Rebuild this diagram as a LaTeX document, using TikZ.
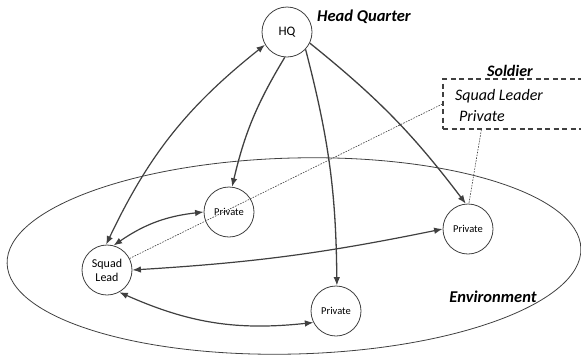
\documentclass[tikz,border=0pt]{standalone}
\usepackage{fontspec}
\setmainfont{Carlito}
\usetikzlibrary{arrows.meta,calc}
\definecolor{edgegray}{HTML}{404040}
\tikzset{
  agent/.style={draw=edgegray, line width=0.8pt, circle, minimum size=50pt, inner sep=0pt, fill=white},
  link/.style={draw=edgegray, line width=1.3pt, -{Latex[length=8.5pt,width=6.5pt]}},
  duallink/.style={draw=edgegray, line width=1.2pt, {Latex[length=8.5pt,width=6.5pt]}-{Latex[length=8.5pt,width=6.5pt]}},
  relation/.style={draw=edgegray, line width=0.6pt, dash pattern=on 1.6pt off 1.2pt},
  heading/.style={font=\fontsize{16.5}{19}\selectfont\bfseries\itshape, inner sep=0pt},
  member/.style={font=\fontsize{16}{19}\selectfont\itshape, inner sep=0pt, anchor=west},
}
\begin{document}
\begin{tikzpicture}[x=1pt,y=-1pt]
\useasboundingbox (0,0) rectangle (581,354);
% environment
\draw[edgegray, line width=0.8pt] (294,256) ellipse[x radius=287, y radius=98, rotate=1.5];
\node[heading] (envlabel) at (493,297) {Environment};
% soldier box
\node[draw=edgegray, line width=1.3pt, dash pattern=on 5pt off 3.5pt, rectangle, minimum width=147pt, minimum height=50pt, inner sep=0pt] (soldierbox) at (516.5,104) {};
\node[heading, font=\fontsize{16}{19}\selectfont\bfseries\itshape] (soldierlabel) at (510,71) {Soldier};
\node[member] (sqleader) at (455,96) {Squad Leader};
\node[member] (sqprivate) at (459,116) {Private};
\coordinate (boxfoot) at ($(soldierbox.south west)+(39,0)$);
% agents
\node[agent, font=\fontsize{13}{15}\selectfont] (hq) at (287,32) {HQ};
\node[agent, font=\fontsize{10.5}{12}\selectfont] (p1) at (229,212) {Private};
\node[agent, font=\fontsize{10.5}{12}\selectfont] (p2) at (468,229) {Private};
\node[agent, font=\fontsize{10.5}{12}\selectfont] (p3) at (336,311) {Private};
\node[agent, font=\fontsize{12}{15}\selectfont, align=center] (sl) at (107,270) {Squad\\[-1pt]Lead};
\node[heading] (hqlabel) at (364,17) {Head Quarter};
% relations
\draw[relation] (soldierbox.west) -- (sl.27);
\draw[relation] (boxfoot) -- (p2.88);
% links
\draw[duallink] (sl.92) to[bend left=13] (hq.210);
\draw[link] (hq.265) to[bend right=9] (p1.83);
\draw[link] (hq.317) to[bend left=7] (p3.88);
\draw[link] (hq.334) to[bend left=7] (p2.95);
\draw[duallink] (sl.75) to[bend left=14] (p1.180);
\draw[duallink] (sl.0) to[bend right=4] (p2.180);
\draw[duallink] (sl.299) to[bend right=15] (p3.207);
\end{tikzpicture}
\end{document}
